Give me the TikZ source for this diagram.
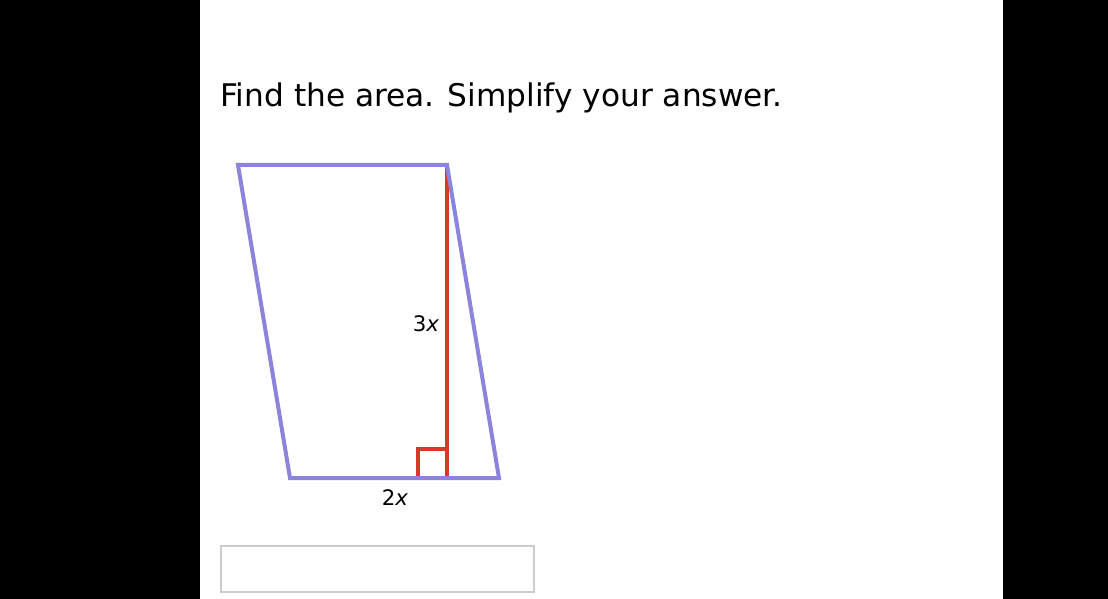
\documentclass[tikz,border=0pt]{standalone}
\usepackage{fontspec}
\setmainfont{DejaVu Sans}
\usetikzlibrary{positioning}
\definecolor{shapeblue}{RGB}{140,132,220}
\definecolor{heightred}{RGB}{216,56,40}
\definecolor{boxgray}{RGB}{204,204,204}
\begin{document}
\begin{tikzpicture}[
      x=0.75pt, y=-0.75pt,
      side/.style={
         draw=shapeblue,
         line width=3pt,
         line join=miter
      },
      heightline/.style={
         draw=heightred,
         line width=2.4pt
      },
      label/.style={
         font=\fontsize{16}{18}\selectfont,
         inner sep=0pt
      },
      answerbox/.style={
         draw=boxgray,
         line width=1.5pt
      }
    ]
    \useasboundingbox (0,0) rectangle (1108,599);
    \fill[black] (0,0) rectangle (200,599);
    \fill[black] (1003,0) rectangle (1108,599);
    \fill[white] (200,0) rectangle (1003,599);
    % question
    \node (question) [anchor=base west, inner sep=0pt, font=\fontsize{23.4}{28}\selectfont] at (220,107) {Find the area. Simplify your answer.};
    % corners
    \coordinate (tl) at (238,165);
    \coordinate (tr) at (447,165);
    \coordinate (br) at (499,478);
    \coordinate (bl) at (290,478);
    \coordinate (foot) at (447,478);
    % height and right angle
    \draw[heightline] (tr) -- (foot);
    \draw[heightline] (foot) ++(-29,0) coordinate (ra1) |- ++(29,-29) coordinate (ra2);
    \draw[side] (tl) -- (tr) -- (br) -- (bl) -- cycle;
    % labels
    \node (hlabel) [label] at (426,324) {3\textit{x}};
    \node (blabel) [label] at (395,498) {2\textit{x}};
    % answer
    \draw[answerbox] (221,546) rectangle (534,592);
\end{tikzpicture}
\end{document}
